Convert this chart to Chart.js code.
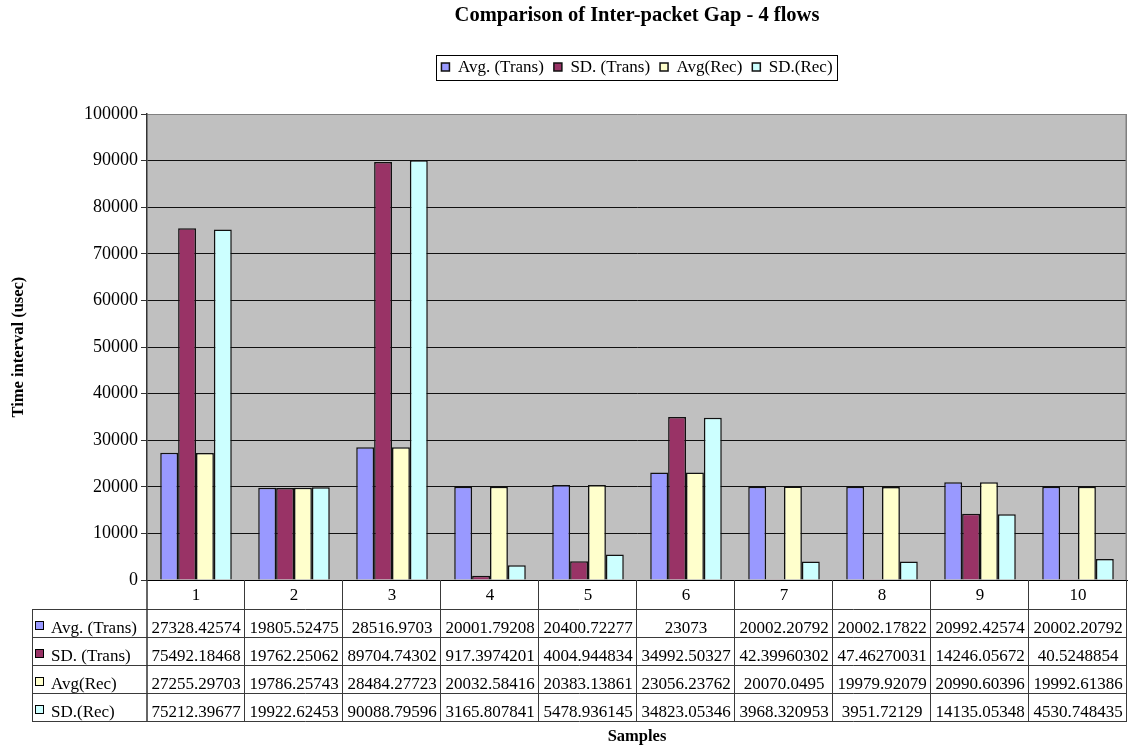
<!DOCTYPE html>
<html>
<head>
<meta charset="utf-8">
<title>Comparison of Inter-packet Gap - 4 flows</title>
<script src="https://cdn.jsdelivr.net/npm/chart.js@4.4.1/dist/chart.umd.min.js"></script>
<style>
  html, body { margin: 0; padding: 0; background: #ffffff; }
  canvas { display: block; }
</style>
</head>
<body>
<canvas id="gapChart" width="1131" height="748"></canvas>
<script>
// Sample numbers along the category axis
const samples = ['1', '2', '3', '4', '5', '6', '7', '8', '9', '10'];

// Inter-packet gap statistics per sample (microseconds)
const avgTrans = [27328.42574, 19805.52475, 28516.9703, 20001.79208, 20400.72277,
                  23073, 20002.20792, 20002.17822, 20992.42574, 20002.20792];
const sdTrans  = [75492.18468, 19762.25062, 89704.74302, 917.3974201, 4004.944834,
                  34992.50327, 42.39960302, 47.46270031, 14246.05672, 40.5248854];
const avgRec   = [27255.29703, 19786.25743, 28484.27723, 20032.58416, 20383.13861,
                  23056.23762, 20070.0495, 19979.92079, 20990.60396, 19992.61386];
const sdRec    = [75212.39677, 19922.62453, 90088.79596, 3165.807841, 5478.936145,
                  34823.05346, 3968.320953, 3951.72129, 14135.05348, 4530.748435];

const seriesNames = ['Avg. (Trans)', 'SD. (Trans)', 'Avg(Rec)', 'SD.(Rec)'];
const seriesValues = [avgTrans, sdTrans, avgRec, sdRec];

// Value axis range and step
const yMin = 0;
const yMax = 100000;
const yStep = 10000;

const SERIF = "'Liberation Serif', 'Times New Roman', serif";
const seriesColors = ['#9999FF', '#993366', '#FFFFCC', '#CCFFFF'];

// Grey plot area with a grey frame on the right
const plotBackground = {
  id: 'plotBackground',
  beforeDraw(chart) {
    const { ctx, chartArea: a } = chart;
    ctx.save();
    ctx.fillStyle = '#C0C0C0';
    ctx.fillRect(a.left, a.top, a.right - a.left, a.bottom - a.top);
    ctx.restore();
  },
  beforeDatasetsDraw(chart) {
    const { ctx, chartArea: a } = chart;
    ctx.save();
    ctx.strokeStyle = '#808080';
    ctx.lineWidth = 1.5;
    ctx.beginPath();
    ctx.moveTo(a.right - 0.75, a.top);
    ctx.lineTo(a.right - 0.75, a.bottom);
    ctx.stroke();
    ctx.restore();
  }
};

// Extra room between the legend and the plot area
const legendSpacing = {
  id: 'legendSpacing',
  beforeInit(chart) {
    const legend = chart.legend;
    const baseFit = legend.fit;
    legend.fit = function () {
      baseFit.call(this);
      this.height += 28.5;
    };
  }
};

// Thin black frame around the legend items
const legendFrame = {
  id: 'legendFrame',
  afterDraw(chart) {
    const boxes = chart.legend && chart.legend.legendHitBoxes;
    if (!boxes || !boxes.length) return;
    const left = Math.min(...boxes.map(b => b.left)) - 5;
    const right = Math.max(...boxes.map(b => b.left + b.width)) + 5;
    const top = Math.min(...boxes.map(b => b.top)) - 4;
    const bottom = Math.max(...boxes.map(b => b.top + b.height)) + 4;
    const { ctx } = chart;
    ctx.save();
    ctx.strokeStyle = '#000000';
    ctx.lineWidth = 1;
    ctx.strokeRect(Math.round(left) + 0.5, Math.round(top) + 0.5,
                   Math.round(right - left), Math.round(bottom - top));
    ctx.restore();
  }
};

// Data table under the category axis, one column per sample
const dataTable = {
  id: 'dataTable',
  afterDraw(chart) {
    const { ctx, chartArea: a } = chart;
    const xs = chart.scales.x;
    const datasets = chart.data.datasets;
    const n = chart.data.labels.length;
    const colW = (a.right - a.left) / n;
    const headerH = 29;
    const rowH = 28;
    const keyLeft = 32;
    const rowsTop = a.bottom + headerH;
    const tableBottom = rowsTop + rowH * datasets.length;

    const line = (x1, y1, x2, y2) => {
      ctx.beginPath();
      ctx.moveTo(x1, y1);
      ctx.lineTo(x2, y2);
      ctx.stroke();
    };

    ctx.save();
    ctx.strokeStyle = '#3a3a3a';
    ctx.lineWidth = 1;
    for (let r = 0; r <= datasets.length; r++) {
      const y = Math.round(rowsTop + r * rowH) + 0.5;
      line(keyLeft, y, a.right, y);
    }
    for (let i = 1; i <= n; i++) {
      const x = Math.round(xs.getPixelForValue(i - 1) + colW / 2) - 0.5;
      line(x, a.bottom, x, tableBottom);
    }
    line(keyLeft + 0.5, rowsTop, keyLeft + 0.5, tableBottom);
    ctx.strokeStyle = '#333333';
    ctx.lineWidth = 1.5;
    line(a.left, a.bottom, a.left, tableBottom);

    ctx.font = '17px ' + SERIF;
    ctx.fillStyle = '#000000';
    ctx.textBaseline = 'alphabetic';
    datasets.forEach((ds, r) => {
      const base = rowsTop + (r + 1) * rowH - 4;
      // key swatch and series name
      ctx.fillStyle = ds.backgroundColor;
      ctx.fillRect(35, base - 12, 8, 8);
      ctx.strokeStyle = '#000000';
      ctx.lineWidth = 1;
      ctx.strokeRect(35.5, base - 11.5, 8, 8);
      ctx.fillStyle = '#000000';
      ctx.textAlign = 'left';
      ctx.fillText(ds.label, 51, base);
      // values
      ctx.textAlign = 'center';
      ds.data.forEach((v, i) => {
        ctx.fillText(String(v), xs.getPixelForValue(i), base);
      });
    });
    ctx.restore();
  }
};

const chart = new Chart(document.getElementById('gapChart'), {
  type: 'bar',
  data: {
    labels: samples,
    datasets: seriesNames.map((name, i) => ({
      label: name,
      data: seriesValues[i],
      backgroundColor: seriesColors[i],
      borderColor: '#111111',
      borderWidth: 1.5,
      categoryPercentage: 0.73,
      barPercentage: 1.0
    }))
  },
  options: {
    responsive: false,
    animation: false,
    devicePixelRatio: 1,
    layout: { padding: { left: 0, right: 4, top: 0, bottom: 0 } },
    plugins: {
      title: {
        display: true,
        fullSize: false,
        text: 'Comparison of Inter-packet Gap - 4 flows',
        color: '#000000',
        font: { family: SERIF, size: 20.5, weight: 'bold' },
        padding: { top: 3, bottom: 21 }
      },
      legend: {
        display: true,
        fullSize: false,
        position: 'top',
        labels: {
          color: '#000000',
          font: { family: SERIF, size: 17 },
          boxWidth: 8,
          boxHeight: 8,
          padding: 10
        }
      },
      tooltip: { enabled: false }
    },
    scales: {
      x: {
        grid: { display: false, drawTicks: false },
        border: { display: true, color: '#000000', width: 1 },
        ticks: {
          color: '#000000',
          font: { family: SERIF, size: 17 },
          padding: 5,
          maxRotation: 0,
          autoSkip: false
        },
        title: {
          display: true,
          text: 'Samples',
          color: '#000000',
          font: { family: SERIF, size: 16.5, weight: 'bold' },
          padding: { top: 0, bottom: 1 }
        },
        afterFit(scale) { scale.height = 168; }
      },
      y: {
        min: yMin,
        max: yMax,
        grid: {
          color: ctx => (ctx.tick && ctx.tick.value === yMax) ? '#808080' : '#111111',
          lineWidth: 1,
          drawTicks: true,
          tickLength: 6,
          tickColor: '#333333'
        },
        border: { display: true, color: '#333333', width: 1.5 },
        ticks: {
          stepSize: yStep,
          color: '#000000',
          font: { family: SERIF, size: 18 },
          padding: 3,
          callback: v => String(v)
        },
        title: {
          display: true,
          text: 'Time interval (usec)',
          color: '#000000',
          font: { family: SERIF, size: 16.5, weight: 'bold' },
          padding: { top: 9, bottom: 0 }
        },
        afterFit(scale) { scale.width = 147; }
      }
    }
  },
  plugins: [plotBackground, legendSpacing, legendFrame, dataTable]
});
</script>
</body>
</html>
